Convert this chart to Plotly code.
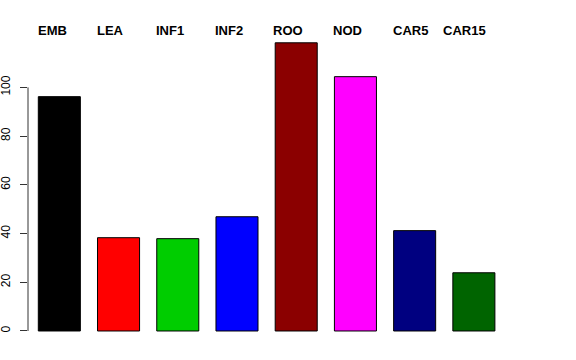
import plotly.graph_objects as go

categories = ["EMB", "LEA", "INF1", "INF2", "ROO", "NOD", "CAR5", "CAR15"]
values = [96.2, 38.3, 37.9, 46.9, 118.3, 104.4, 41.2, 23.9]
colors = ["#000000", "#FF0000", "#00CD00", "#0000FF", "#8B0000", "#FF00FF", "#000080", "#006400"]
y_ticks = [0, 20, 40, 60, 80, 100]

xpos = list(range(len(categories)))
label_shift = [-7, -8, -8, -8, -8, -8, -4, -9]

fig = go.Figure()
fig.add_trace(go.Bar(
    x=xpos, y=values,
    marker=dict(color=colors, line=dict(color="#000000", width=1)),
    width=0.71,
    showlegend=False, hoverinfo="skip",
))

for i, name in enumerate(categories):
    fig.add_annotation(
        x=xpos[i], xref="x", y=1, yref="paper",
        text="<b>" + name + "</b>", showarrow=False,
        xanchor="center", yanchor="middle", xshift=label_shift[i], yshift=-0.5,
        font=dict(family="Liberation Sans, Arial, sans-serif", size=13, color="#000000"),
    )

fig.add_shape(type="line", xref="paper", yref="y", x0=0, x1=0,
              y0=y_ticks[0], y1=y_ticks[-1], line=dict(color="#333333", width=1))

fig.update_layout(
    width=576, height=360,
    margin=dict(l=28, r=48, t=30, b=17, autoexpand=False),
    paper_bgcolor="white", plot_bgcolor="white",
    xaxis=dict(range=[-0.529, 7.914], visible=False, showgrid=False, zeroline=False,
               automargin=False),
    yaxis=dict(range=[-4.93, 123.56], tickvals=y_ticks, ticktext=[str(v) for v in y_ticks],
               ticks="outside", ticklen=7, tickcolor="#333333", tickwidth=1,
               tickangle=-90, showgrid=False, zeroline=False, showline=False,
               automargin=False, ticklabelstandoff=5,
               tickfont=dict(family="Liberation Sans, Arial, sans-serif", size=12, color="#000000")),
)

fig.write_html("out.html", config={"displayModeBar": False},
               post_script="document.body.style.margin='0';document.body.style.padding='0';")
